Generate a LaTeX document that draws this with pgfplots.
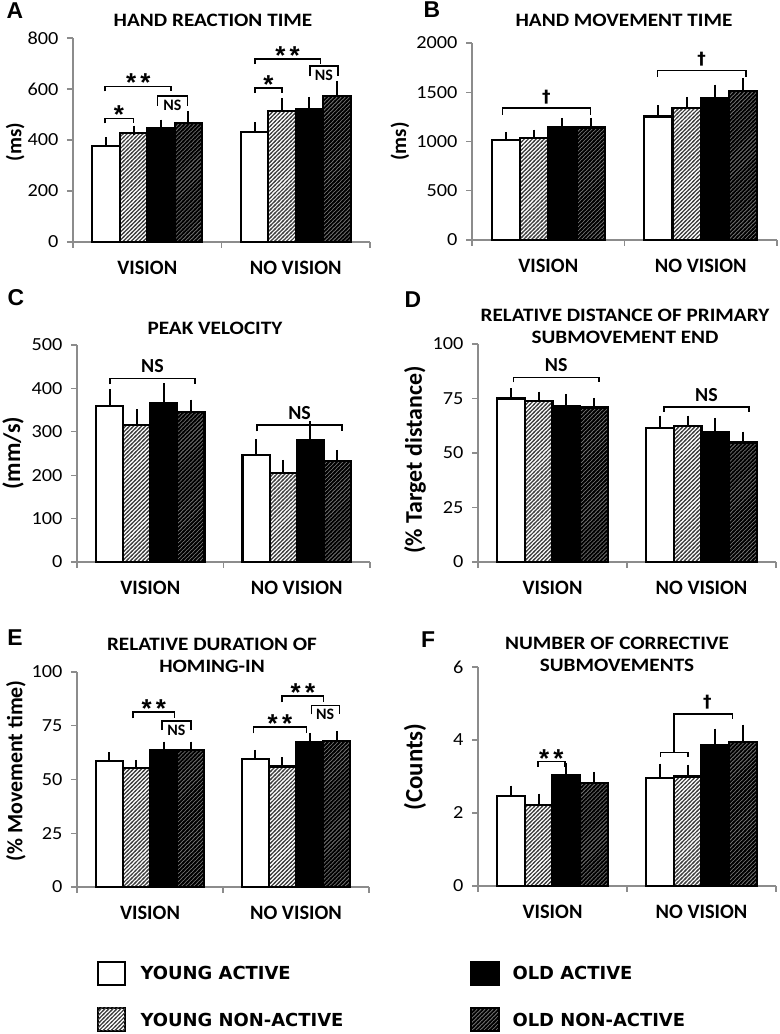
\documentclass[border=0pt]{standalone}
\usepackage{pgfplots}
\pgfplotsset{compat=1.18}
\usepackage{pgfplotstable}
\usetikzlibrary{patterns}
\usepackage{fontspec}
\setmainfont{Carlito}
\newfontfamily\arialfont{Liberation Sans}
\newfontfamily\dejavufont{DejaVu Sans}
\newfontfamily\tickfont[FakeStretch=1.1]{Carlito}
\newfontfamily\titlefont[FakeStretch=1.12]{Carlito}
\definecolor{axgray}{HTML}{8C8C8C}
\newcommand{\fs}[1]{\fontsize{#1}{#1}\selectfont}
\newcommand{\fsl}[2]{\fontsize{#1}{#2}\selectfont}

\pgfdeclarepatternformonly{hatchthin}{\pgfqpoint{-1pt}{-1pt}}{\pgfqpoint{5pt}{5pt}}{\pgfqpoint{4pt}{4pt}}{%
  \pgfsetlinewidth{1.2pt}\pgfpathmoveto{\pgfqpoint{-1pt}{-1pt}}\pgfpathlineto{\pgfqpoint{5pt}{5pt}}\pgfusepath{stroke}}
\pgfdeclarepatternformonly{hatchthick}{\pgfqpoint{-1pt}{-1pt}}{\pgfqpoint{5pt}{5pt}}{\pgfqpoint{4pt}{4pt}}{%
  \pgfsetlinewidth{1.7pt}\pgfpathmoveto{\pgfqpoint{-1pt}{-1pt}}\pgfpathlineto{\pgfqpoint{5pt}{5pt}}\pgfusepath{stroke}}

% data: g = group (0 VISION, 1 NO VISION); ya..yd = means; ea..ed = upper error
\pgfplotstableread{
g ya ea yb eb yc ec yd ed
0 378 16 426 13 446 16 468 28
1 430 22 514 33 521 30 574 40
}\tabA
\pgfplotstableread{
g ya ea yb eb yc ec yd ed
0 1017 34 1034 41 1146 47 1142 51
1 1254 68 1336 71 1441 91 1515 85
}\tabB
\pgfplotstableread{
g ya ea yb eb yc ec yd ed
0 359 29 315 26 367 35 346 18
1 246 27 205 20 281 33 232 16
}\tabC
\pgfplotstableread{
g ya ea yb eb yc ec yd ed
0 75.0 2.6 73.8 2.3 71.5 3.5 70.9 2.3
1 61.6 3.5 62.3 2.8 59.7 4.3 54.8 2.9
}\tabD
\pgfplotstableread{
g ya ea yb eb yc ec yd ed
0 58.7 1.9 55.2 1.8 63.7 1.8 63.7 1.8
1 59.4 2.3 56.0 2.3 67.5 2.1 67.9 2.6
}\tabE
\pgfplotstableread{
g ya ea yb eb yc ec yd ed
0 2.47 0.16 2.22 0.19 3.03 0.22 2.82 0.18
1 2.95 0.28 3.00 0.20 3.87 0.32 3.94 0.36
}\tabF

\tikzset{
  lhatch/.style={pattern=hatchthin, pattern color=black!75},
  dhatch/.style={pattern=hatchthick, pattern color=black},
  star/.style={anchor=base, yshift=-5.5bp, font=\arialfont\bfseries\fs{26}},
  nsup/.style={anchor=south, yshift=2bp, font=\bfseries\fs{20}},
  nsin/.style={anchor=north, inner sep=0pt, yshift=-3.5bp, font=\bfseries\fs{16}},
  dag/.style={anchor=base, yshift=6bp, font=\dejavufont\bfseries\fs{17}},
}
\newcommand{\br}[4][5bp]{\draw[line width=1.6bp] ([yshift=-#1]axis cs:#2,#4) -- (axis cs:#2,#4) -- (axis cs:#3,#4) -- ([yshift=-#1]axis cs:#3,#4);}
\newcommand{\lab}[4]{\node[#1] at (axis cs:#2,#3) {#4};}

\pgfplotsset{
  panel/.style={
    scale only axis, anchor=south west, clip=false,
    xmin=-0.5, xmax=1.5, ymin=0,
    axis x line*=bottom, axis y line*=left, tick pos=left,
    axis line style={draw=axgray, line width=1.2bp},
    every tick/.style={draw=axgray, line width=1.2bp},
    major tick length=6bp, tick align=outside,
    xtick={-0.5,0.5,1.5}, xticklabels={},
    extra x ticks={0,1}, extra x tick labels={VISION,NO VISION},
    extra x tick style={major tick length=0pt},
    xticklabel style={font=\bfseries\fs{20.5}, anchor=center, yshift=-26bp},
    yticklabel style={font=\tickfont\fs{18.5}, xshift=-5bp},
    /pgf/number format/assume math mode=true,
    /pgf/number format/1000 sep={},
    scaled y ticks=false,
    ylabel style={anchor=center},
  },
  ebar/.style={/pgfplots/error bars/y dir=plus, /pgfplots/error bars/y explicit,
    /pgfplots/error bars/error mark=-,
    /pgfplots/error bars/error bar style={line width=2bp, black, solid},
    /pgfplots/error bars/error mark options={line width=2bp, black, solid, mark size=4.5bp}},
  sbase/.style={ybar, bar width=0.185, bar shift=0pt, draw=black, line width=2.2bp, ebar},
  sa/.style={sbase, fill=white},
  sb/.style={sbase, fill=white, postaction={lhatch}},
  sc/.style={sbase, fill=black},
  sd/.style={sbase, fill=black!55, postaction={dhatch}},
}
% bar centres: group index g plus offsets -0.2775, -0.0925, 0.0925, 0.2775
\newcommand{\fourbars}[1]{%
\addplot[sa] table[x expr=\thisrow{g}-0.2775, y=ya, y error=ea]{#1};
\addplot[sb] table[x expr=\thisrow{g}-0.0925, y=yb, y error=eb]{#1};
\addplot[sc] table[x expr=\thisrow{g}+0.0925, y=yc, y error=ec]{#1};
\addplot[sd] table[x expr=\thisrow{g}+0.2775, y=yd, y error=ed]{#1};}

\begin{document}
\begin{tikzpicture}
\useasboundingbox (0,0) rectangle (780bp,1034bp);

% ---------------- A ----------------
\begin{axis}[panel, at={(73bp,792bp)}, width=297bp, height=204bp, ymax=800, ytick={0,200,...,800},
  ylabel={(ms)}, ylabel style={font=\bfseries\fs{21}, at={(axis description cs:-0.195,0.49)}}]
\fourbars{\tabA}
\br{-0.285}{-0.092}{485} \lab{star}{-0.19}{485}{*}
\br{-0.285}{0.16}{610} \lab{star}{-0.06}{610}{*\,*}
\br[10bp]{0.07}{0.27}{573} \lab{nsin}{0.17}{573}{NS}
\br{0.724}{0.908}{603} \lab{star}{0.816}{603}{*}
\br{0.724}{1.167}{717} \lab{star}{0.945}{717}{*\,*}
\br[10bp]{1.094}{1.285}{689} \lab{nsin}{1.19}{689}{NS}
\end{axis}

% ---------------- B ----------------
\begin{axis}[panel, at={(472bp,794bp)}, width=305bp, height=197bp, ymax=2000, ytick={0,500,...,2000},
  ylabel={(ms)}, ylabel style={font=\bfseries\fs{21}, at={(axis description cs:-0.236,0.5)}}]
\fourbars{\tabB}
\br[6.5bp]{-0.299}{0.276}{1339} \lab{dag}{-0.012}{1339}{†}
\br[6.5bp]{0.716}{1.295}{1722} \lab{dag}{1.005}{1722}{†}
\end{axis}

% ---------------- C ----------------
\begin{axis}[panel, at={(77bp,472bp)}, width=293bp, height=217bp, ymax=500, ytick={0,100,...,500},
  ylabel={(mm/s)}, ylabel style={font=\bfseries\fs{24}, at={(axis description cs:-0.218,0.502)}}]
\fourbars{\tabC}
\br[6bp]{-0.276}{0.306}{423} \lab{nsup}{0.015}{423}{NS}
\br[6bp]{0.728}{1.31}{315} \lab{nsup}{1.019}{315}{NS}
\end{axis}

% ---------------- D ----------------
\begin{axis}[panel, at={(478bp,472bp)}, width=298bp, height=218bp, ymax=100, ytick={0,25,...,100},
  ylabel={(\% Target distance)}, ylabel style={font=\bfseries\fs{24}, at={(axis description cs:-0.211,0.468)}}]
\fourbars{\tabD}
\br[5bp]{-0.262}{0.311}{84.7} \lab{nsup}{0.025}{84.7}{NS}
\br[5bp]{0.747}{1.32}{71.2} \lab{nsup}{1.033}{71.2}{NS}
\end{axis}

% ---------------- E ----------------
\begin{axis}[panel, at={(77bp,147bp)}, width=292bp, height=215bp, ymax=100, ytick={0,25,...,100},
  ylabel={(\% Movement time)}, ylabel style={font=\bfseries\fs{22}, at={(axis description cs:-0.209,0.54)}}]
\fourbars{\tabE}
\br[6.5bp]{-0.116}{0.169}{81.5} \lab{star}{0.026}{81.5}{*\,*}
\br[9bp]{0.084}{0.279}{77.1} \lab{nsin}{0.18}{77.1}{NS}
\br[6.5bp]{0.71}{1.071}{74.5} \lab{star}{0.89}{74.5}{*\,*}
\br[6bp]{0.906}{1.189}{88.7} \lab{star}{1.047}{88.7}{*\,*}
\br[9bp]{1.105}{1.299}{84.5} \lab{nsin}{1.2}{84.5}{NS}
\end{axis}

% ---------------- F ----------------
\begin{axis}[panel, at={(478bp,148bp)}, width=298bp, height=219bp, ymax=6, ytick={0,2,...,6},
  ylabel={(Counts)}, ylabel style={font=\bfseries\fs{25}, at={(axis description cs:-0.211,0.543)}}]
\fourbars{\tabF}
\br[5bp]{-0.099}{0.083}{3.41} \lab{star}{-0.008}{3.41}{*\,*}
\br[4.5bp]{0.725}{0.908}{3.66}
\draw[line width=1.6bp] (axis cs:0.816,3.66) -- (axis cs:0.816,4.72) -- (axis cs:1.208,4.72) -- ([yshift=-5bp]axis cs:1.208,4.72);
\lab{dag}{1.04}{4.72}{†}
\end{axis}

% ---------------- titles and panel letters ----------------
\begin{scope}[every node/.style={font=\titlefont\bfseries\fsl{19}{22}, align=center}]
\node at (213bp,1014bp) {HAND REACTION TIME};
\node at (624bp,1014bp) {HAND MOVEMENT TIME};
\node at (215bp,706bp) {PEAK VELOCITY};
\node at (625bp,708bp) {RELATIVE DISTANCE OF PRIMARY\\SUBMOVEMENT END};
\node at (212bp,379bp) {RELATIVE DURATION OF\\HOMING-IN};
\node at (617bp,380bp) {NUMBER OF CORRECTIVE\\SUBMOVEMENTS};
\end{scope}
\begin{scope}[every node/.style={font=\arialfont\bfseries\fs{23}}]
\node at (15bp,1023bp) {A};
\node at (432bp,1024bp) {B};
\node at (16bp,736bp) {C};
\node at (413bp,734bp) {D};
\node at (15bp,396bp) {E};
\node at (428bp,394bp) {F};
\end{scope}

% ---------------- legend ----------------
\draw[line width=2bp, fill=white] (98bp,49bp) rectangle (125bp,72bp);
\draw[line width=2bp, fill=white, postaction={lhatch}] (98bp,3bp) rectangle (125bp,26bp);
\draw[line width=2bp, fill=black] (471bp,49bp) rectangle (499bp,72bp);
\draw[line width=2bp, fill=black!55, postaction={dhatch}] (471bp,3bp) rectangle (499bp,26bp);
\begin{scope}[every node/.style={anchor=west, font=\dejavufont\bfseries\fs{18}}]
\node at (137bp,61bp) {YOUNG ACTIVE};
\node at (137bp,14bp) {YOUNG NON-ACTIVE};
\node at (509bp,61bp) {OLD ACTIVE};
\node at (509bp,14bp) {OLD NON-ACTIVE};
\end{scope}
\end{tikzpicture}
\end{document}
